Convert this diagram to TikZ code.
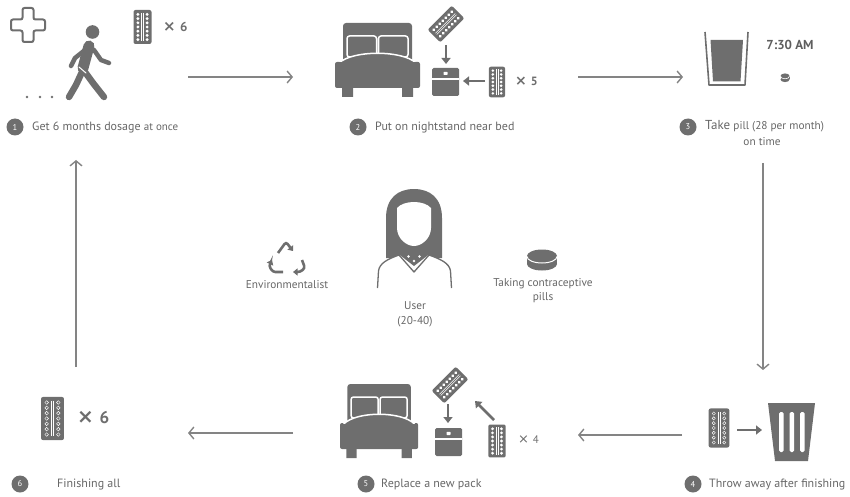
\documentclass[tikz,border=0pt]{standalone}
\usepackage{fontspec}
\setmainfont{PT Sans}
\newfontfamily\crossfont{DejaVu Sans}
\usetikzlibrary{arrows.meta}
\definecolor{icon}{HTML}{6E6E6E}
\definecolor{txt}{HTML}{666666}
\definecolor{flow}{HTML}{848484}
% large multiplication cross used in the pack counts
\newcommand{\bigtimes}[1]{{\crossfont\fontsize{#1}{#1}\selectfont ×}}

\tikzset{
  flowarrow/.style={draw=flow, line width=1.4pt,
    -{Straight Barb[length=5pt,width=12pt,line width=1.4pt]}},
  shortarrow/.style={draw=icon, line width=2.6pt,
    -{Triangle[length=6pt,width=9pt]}},
  lbl/.style={text=txt, font=\fontsize{12}{14}\selectfont, anchor=west, inner sep=0pt},
  clbl/.style={text=txt, font=\fontsize{11.3}{13}\selectfont, inner sep=0pt},
  num/.style={circle, fill=icon, text=white, minimum size=17pt, inner sep=0pt,
    font=\fontsize{8.5}{9}\selectfont},
  times/.style={text=icon, anchor=west, inner sep=0pt},
  % blister pack with filled pills
  pics/pack/.style={code={
    \fill[icon, rounded corners=2pt] (-9,-17) rectangle (9,17);
    \draw[white, line width=0.5pt] (-0.9,-14) -- (-0.9,14) (0.9,-14) -- (0.9,14);
    \foreach \k in {0,...,6} {
      \fill[white] (-4.6,-12.6+4.2*\k) circle (1.6);
      \fill[white] (4.6,-12.6+4.2*\k) circle (1.6);
    }
  }},
  % empty blister pack, open rings
  pics/emptypack/.style={code={
    \fill[icon, rounded corners=2pt] (-9,-17) rectangle (9,17);
    \draw[white, line width=0.5pt] (-0.9,-14) -- (-0.9,14) (0.9,-14) -- (0.9,14);
    \foreach \k in {0,...,6} {
      \draw[white, line width=0.45pt] (-4.6,-12.6+4.2*\k) circle (1.4);
      \draw[white, line width=0.45pt] (4.6,-12.6+4.2*\k) circle (1.4);
    }
  }},
  % double bed, origin at top left
  pics/bed/.style={code={
    \fill[icon, rounded corners=3pt] (8,0) rectangle (77,40);
    \filldraw[fill=icon, draw=white, line width=1.5pt, rounded corners=2.5pt]
      (12,13) rectangle (41.5,34) (43.5,13) rectangle (73,34);
    \fill[icon, rounded corners=2pt] (0,39) rectangle (85,65);
    \filldraw[fill=icon, draw=white, line width=1.5pt]
      (4,40) .. controls (18,27) and (67,27) .. (81,40);
    \fill[icon] (1.5,39.5) -- (83.5,39.5) -- (83.5,44) -- (1.5,44) -- cycle;
    \fill[icon] (7,65) rectangle (18,74) (67,65) rectangle (78,74);
  }},
  % nightstand, origin at top left
  pics/stand/.style={code={
    \fill[icon, rounded corners=1.5pt] (0,0) rectangle (27,28);
    \draw[white, line width=1.2pt] (0,11) -- (27,11);
    \fill[white, rounded corners=0.6pt] (11.5,3.8) rectangle (15.5,7);
  }},
}

\begin{document}
\begin{tikzpicture}[x=1pt, y=-1pt]
\useasboundingbox (0,0) rectangle (850,497);

% ---------- step 1: get six months of pills ----------
\draw[icon, line width=2pt, rounded corners=2pt]
  (22.5,8) -- (33.5,8) -- (33.5,19.5) -- (45,19.5) -- (45,30.5) -- (33.5,30.5)
  -- (33.5,42) -- (22.5,42) -- (22.5,30.5) -- (11,30.5) -- (11,19.5) -- (22.5,19.5) -- cycle;
% walking person
\begin{scope}[icon, line cap=round, line join=round]
  \fill (92.5,32) circle (6.8);
  \draw[line width=4.5pt] (85,50) -- (75,58) -- (71,66);
  \draw[line width=4.5pt] (94,50) -- (101,60) -- (109,63);
  \draw[line width=11pt] (89,46) -- (83,68);
  \draw[line width=6.5pt] (82,72) -- (76,85) -- (69,97);
  \draw[line width=6.5pt] (85,72) -- (93,83) -- (104,97);
  \draw[white, line width=1pt] (79,67) -- (86,73);
\end{scope}
\fill[icon] (27,97) circle (1.4) (40,97) circle (1.4) (52,97) circle (1.4);
\pic at (142.5,27) {pack};
\node[times, font=\fontsize{13}{14}\bfseries] (x6a) at (163,27) {\bigtimes{15}\,\,6};
\node[num] (n1) at (15,127) {1};
\node[lbl] (l1) at (32,127.5) {Get 6 months dosage {\fontsize{11}{12}\selectfont at once}};

% ---------- step 2: put on nightstand ----------
\pic at (335,23) {bed};
\pic[rotate=-45] at (446,24) {pack};
\coordinate (d2a) at (446,45);
\coordinate (d2b) at (446,64);
\draw[shortarrow] (d2a) -- (d2b);
\pic at (432,68) {stand};
\pic[scale=0.9] at (497,82) {pack};
\coordinate (h2a) at (485,81);
\coordinate (h2b) at (463,81);
\draw[shortarrow] (h2a) -- (h2b);
\node[times, font=\fontsize{12}{14}\bfseries] (x5) at (515,81) {\bigtimes{14}\,\,5};
\node[num] (n2) at (358,127) {2};
\node[lbl] (l2) at (375,127.5) {Put on nightstand near bed};

% ---------- step 3: take the pill ----------
\draw[icon, line width=1.6pt, line join=round] (705,32) -- (709,85) -- (745,85) -- (748,32);
\fill[icon] (710.5,40) -- (743,40) -- (740.5,81.5) -- (713,81.5) -- cycle;
\node[text=icon!85!black, font=\fontsize{13}{14}\bfseries, inner sep=0pt] (clock) at (790,45) {7:30 AM};
\fill[icon] (785,79.5) ellipse (4.5 and 2.6);
\fill[icon] (780.5,76) rectangle (789.5,79.5);
\fill[icon] (785,76) ellipse (4.5 and 2.6);
\draw[white, line width=0.6pt] (780.5,76.2) arc[start angle=180, end angle=0, x radius=4.5, y radius=2.6];
\node[num] (n3) at (688,127) {3};
\node[lbl] (l3) at (705,126.5) {{\fontsize{13}{14}\selectfont Take} {\fontsize{11.3}{13}\selectfont pill (28 per month)}};
\node[clbl] (l3b) at (762,142) {on time};

% ---------- step 4: throw away ----------
\pic[scale=1.15] at (719,428) {emptypack};
\coordinate (t4a) at (737,430);
\coordinate (t4b) at (762,430);
\draw[shortarrow] (t4a) -- (t4b);
\fill[icon] (768,403) -- (815,403) -- (808,461) -- (775,461) -- cycle;
\fill[white, rounded corners=1.5pt]
  (779,412) rectangle (783.5,452)
  (789.5,412) rectangle (794,452)
  (800,412) rectangle (804.5,452);
\node[num] (n4) at (693,484) {4};
\node[lbl] (l4) at (709,484.5) {Throw away after finishing};

% ---------- step 5: replace with a new pack ----------
\pic[xscale=0.92] at (340,384) {bed};
\pic[rotate=-45] at (450,385) {pack};
\coordinate (d5a) at (448,404);
\coordinate (d5b) at (448,423);
\draw[shortarrow] (d5a) -- (d5b);
\pic at (435,428) {stand};
\coordinate (u5a) at (494,420);
\coordinate (u5b) at (475,401);
\draw[shortarrow] (u5a) -- (u5b);
\pic[scale=0.97] at (497,441) {pack};
\node[times, font=\fontsize{11}{13}\selectfont] (x4) at (518,440) {\bigtimes{13}\,\,4};
\node[num] (n5) at (366,484) {5};
\node[lbl] (l5) at (381,484.5) {Replace a new pack};

% ---------- step 6: finishing all ----------
\pic[scale=1.27] at (52.5,418.5) {emptypack};
\node[times, font=\fontsize{17}{19}\bfseries] (x6b) at (77,418) {\bigtimes{20}\,\,6};
\node[num] (n6) at (20,484) {6};
\node[lbl] (l6) at (57,484.5) {Finishing all};

% ---------- cycle connectors ----------
\coordinate (s1e) at (188,77);  \coordinate (s2w) at (293,77);
\coordinate (s2e) at (578,77);  \coordinate (s3w) at (683,77);
\coordinate (s3s) at (763,163); \coordinate (s4n) at (763,370);
\coordinate (s4w) at (682,435); \coordinate (s5e) at (578,435);
\coordinate (s5w) at (293,433); \coordinate (s6e) at (188,433);
\coordinate (s6n) at (76,367);  \coordinate (s1s) at (76,160);
\draw[flowarrow] (s1e) -- (s2w);
\draw[flowarrow] (s2e) -- (s3w);
\draw[flowarrow] (s3s) -- (s4n);
\draw[flowarrow] (s4w) -- (s5e);
\draw[flowarrow] (s5w) -- (s6e);
\draw[flowarrow] (s6n) -- (s1s);

% ---------- user in the middle ----------
% hair
\fill[icon] (386,258) -- (386,218) .. controls (386,198) and (398,189) .. (414,189)
  .. controls (430,189) and (442,198) .. (442,218) -- (442,258) -- cycle;
% shoulders
\filldraw[fill=white, draw=icon, line width=1.3pt, line join=round]
  (377.5,288) -- (378.5,271) .. controls (379.5,263) and (388,259) .. (399,255)
  -- (429,255) .. controls (440,259) and (449.5,263) .. (450.5,271) -- (451.5,288);
% neck and collar
\fill[icon] (403,238) -- (425,238) -- (427,256) -- (414,266) -- (401,256) -- cycle;
\draw[icon, line width=1.3pt, line join=round] (399,255) -- (414,272) -- (429,255);
\fill[white] (408.5,256.5) circle (1.3) (419.5,256.5) circle (1.3) (414,261) circle (1.3);
% face
\fill[white] (397,208) -- (397,228) .. controls (397,238) and (406,246) .. (414,246)
  .. controls (422,246) and (431,238) .. (431,228) -- (431,208)
  .. controls (424,200) and (404,200) .. cycle;
\node[clbl] (user) at (415,306) {User};
\node[clbl] (age) at (415,322) {(20-40)};

% environmentalist: recycling arrows
\begin{scope}[icon, line width=2.6pt, rounded corners=2.5pt,
    -{Triangle[length=4.5pt,width=7pt]}]
  \draw (278,253) -- (286,242) -- (293,251);
  \draw (302,260) -- (305,268) -- (300,272) -- (293,272);
  \draw (283,272) -- (273,272) -- (269,266) -- (272,260);
\end{scope}
\node[clbl] (env) at (287,285) {Environmentalist};

% contraceptive pill
\fill[icon] (542,264) ellipse (15 and 6.5);
\fill[icon] (527,256) rectangle (557,264);
\fill[icon] (542,256) ellipse (15 and 6.5);
\draw[white, line width=1pt] (527,256.5) arc[start angle=180, end angle=0, x radius=15, y radius=6.5];
\node[clbl] (pill1) at (543,284) {Taking contraceptive};
\node[clbl] (pill2) at (543,298) {pills};
\end{tikzpicture}
\end{document}
